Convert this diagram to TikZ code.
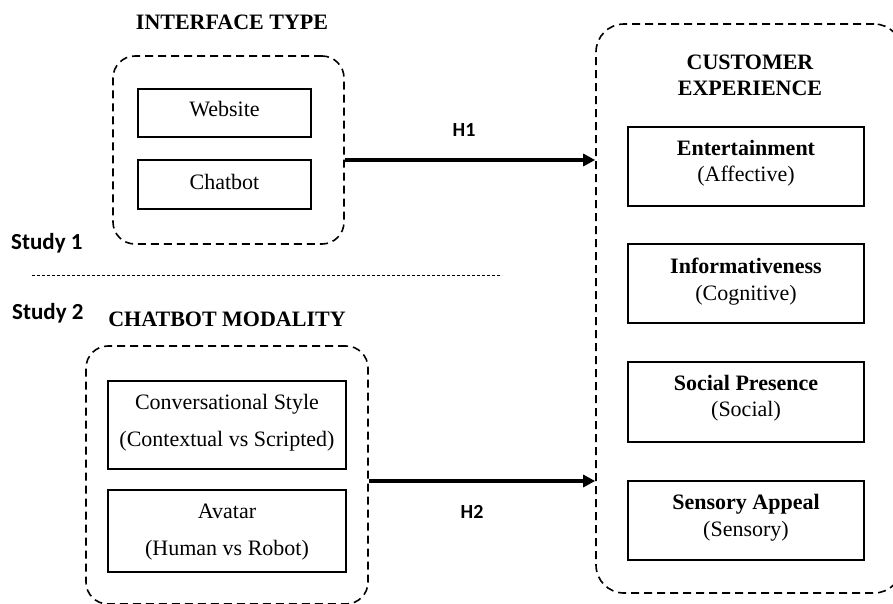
\documentclass[tikz,border=0pt]{standalone}
\usepackage{fontspec}
\setmainfont{Liberation Serif}
\newfontfamily\carlito{Carlito}
\usetikzlibrary{arrows.meta}
\begin{document}
\begin{tikzpicture}[x=1pt,y=-1pt,
  grp/.style={draw, line width=1.6pt, dash pattern=on 8pt off 5pt, rounded corners=22pt, inner sep=0pt},
  bx/.style={draw, line width=1.3pt, rectangle, inner sep=0pt},
  txt/.style={anchor=base, inner sep=0pt, font=\fontsize{22}{26}\selectfont},
  ttl/.style={anchor=base, inner sep=0pt, font=\fontsize{22}{26}\selectfont\bfseries},
  study/.style={anchor=base west, inner sep=0pt, font=\carlito\bfseries\fontsize{23}{27}\selectfont},
  hyp/.style={anchor=base, inner sep=0pt, font=\carlito\bfseries\fontsize{20}{24}\selectfont},
  arr/.style={-{Triangle[length=12pt,width=12pt]}, line width=3.2pt},
  sep/.style={line width=0.9pt, dash pattern=on 3pt off 2pt}
]
\path[use as bounding box, clip] (0,0) rectangle (893,603);

% group frames
\node[grp, minimum width=231pt, minimum height=188pt] (itype) at (228.5,150) {};
\node[grp, minimum width=282pt, minimum height=258pt] (cmod) at (227,475) {};
\node[grp, rounded corners=28pt, minimum width=306pt, minimum height=569pt] (cx) at (749,308.5) {};

% titles
\node[ttl] (t1) at (232,29) {INTERFACE TYPE};
\node[ttl] (t2) at (227,326.7) {CHATBOT MODALITY};
\node[ttl] (t3a) at (750,69.3) {CUSTOMER};
\node[ttl] (t3b) at (750,95.7) {EXPERIENCE};

% interface type boxes
\node[bx, minimum width=173pt, minimum height=48pt] (web) at (224.5,113) {};
\node[txt] (webt) at (224.5,116.7) {Website};
\node[bx, minimum width=173pt, minimum height=49pt] (chat) at (224.5,184.5) {};
\node[txt] (chatt) at (224.5,189.3) {Chatbot};

% chatbot modality boxes
\node[bx, minimum width=238pt, minimum height=88pt] (conv) at (227,425) {};
\node[txt] (conva) at (227,409.3) {Conversational Style};
\node[txt] (convb) at (227,446) {(Contextual vs Scripted)};
\node[bx, minimum width=238pt, minimum height=82pt] (avat) at (227,531) {};
\node[txt] (avata) at (227,518.3) {Avatar};
\node[txt] (avatb) at (227,555) {(Human vs Robot)};

% customer experience boxes
\node[bx, minimum width=236pt, minimum height=79pt] (ent) at (746,166.5) {};
\node[ttl] (enta) at (746,155) {Entertainment};
\node[txt] (entb) at (746,181.7) {(Affective)};
\node[bx, minimum width=236pt, minimum height=79pt] (inf) at (746,283.5) {};
\node[ttl] (infa) at (746,273.3) {Informativeness};
\node[txt] (infb) at (746,300) {(Cognitive)};
\node[bx, minimum width=236pt, minimum height=80pt] (soc) at (746,402) {};
\node[ttl] (soca) at (746,390) {Social Presence};
\node[txt] (socb) at (746,416.7) {(Social)};
\node[bx, minimum width=236pt, minimum height=79pt] (sen) at (746,520.5) {};
\node[ttl] (sena) at (746,509.3) {Sensory Appeal};
\node[txt] (senb) at (746,536) {(Sensory)};

% study labels and separator
\node[study] (s1) at (11,249.3) {Study 1};
\node[study] (s2) at (12,319.3) {Study 2};
\coordinate (sepL) at (32,275);
\coordinate (sepR) at (502,275);
\draw[sep] (sepL) -- (sepR);

% hypotheses
\draw[arr] ([yshift=-10pt]itype.east) -- ([yshift=-10pt]itype.east -| cx.west);
\node[hyp] (h1) at (464,136.7) {H1};
\draw[arr] ([yshift=-6pt]cmod.east) -- ([yshift=-6pt]cmod.east -| cx.west);
\node[hyp] (h2) at (472,518.3) {H2};
\end{tikzpicture}
\end{document}
